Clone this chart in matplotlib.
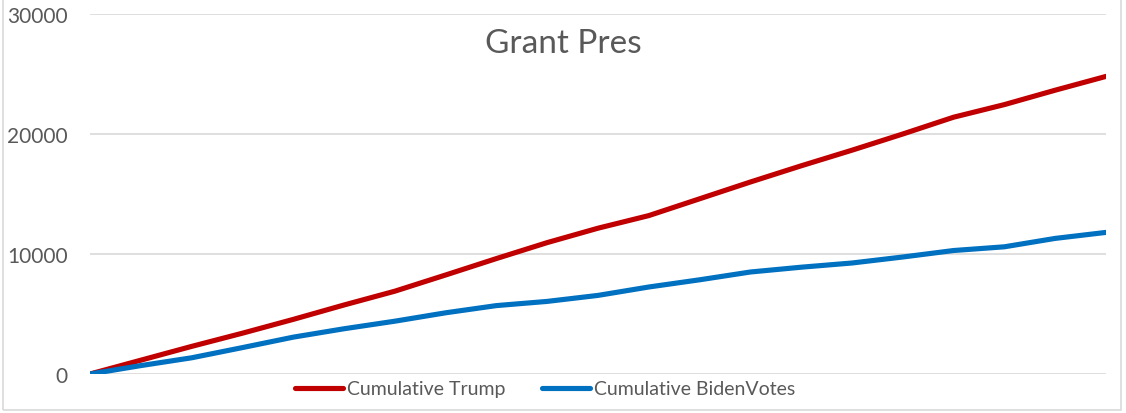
import matplotlib.pyplot as plt
import matplotlib.patches as patches
import numpy as np

# running totals sampled evenly along the precinct order
step = np.arange(21)
trump_cum = [0, 1150, 2300, 3400, 4550, 5750, 6900, 8250, 9620, 10950, 12150,
             13200, 14600, 16000, 17350, 18650, 20000, 21400, 22450, 23650, 24800]
biden_cum = [0, 700, 1350, 2200, 3070, 3770, 4400, 5100, 5700, 6050, 6550,
             7250, 7850, 8500, 8900, 9250, 9750, 10290, 10600, 11300, 11800]
yticks = [0, 10000, 20000, 30000]

plt.rcParams['font.family'] = ['Lato', 'DejaVu Sans']
txt = '#595959'
grid = '#D9D9D9'

fig = plt.figure(figsize=(11.26, 4.14), dpi=100)
ax = fig.add_axes([90 / 1126, 1 - 375 / 414, 1016 / 1126, 360 / 414])

ax.plot(step, trump_cum, color='#C00000', linewidth=3.7, solid_capstyle='round',
        label='Cumulative Trump', zorder=3)
ax.plot(step, biden_cum, color='#0070C0', linewidth=3.7, solid_capstyle='round',
        label='Cumulative BidenVotes', zorder=3)

ax.set_xlim(0, 20)
ax.set_ylim(0, 30000)
ax.set_yticks(yticks)
ax.set_xticks([])
ax.tick_params(axis='y', length=0, pad=16, labelsize=15, labelcolor=txt)
ax.yaxis.grid(True, color=grid, linewidth=1.2)
ax.set_axisbelow(True)
for s in ax.spines.values():
    s.set_visible(False)
ax.patch.set_alpha(0)

fig.text(0.5, 1 - 44 / 414, 'Grant Pres', ha='center', va='center',
         fontsize=24, color=txt)

leg = fig.legend(loc='center', bbox_to_anchor=(545 / 1126, 1 - 390 / 414), ncol=2,
                 frameon=False, fontsize=14, handlelength=2.5, handletextpad=0.2,
                 columnspacing=1.85, labelcolor=txt)

# outer chart frame
frame = patches.Rectangle((3 / 1126, 3 / 414), 1118 / 1126, 1.2,
                          transform=fig.transFigure, fill=False,
                          edgecolor=grid, linewidth=1.2)
fig.patches.append(frame)

fig.savefig('out.png', dpi=100)
